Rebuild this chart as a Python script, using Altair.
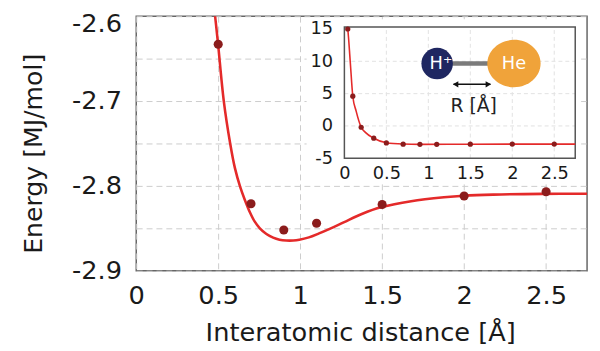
import altair as alt
import pandas as pd

# ---------------- data ----------------
# main panel: computed points
dist = [0.5, 0.7, 0.9, 1.1, 1.5, 2.0, 2.5]
energy = [-2.633, -2.821, -2.852, -2.844, -2.822, -2.812, -2.807]

# main panel: fitted curve
fit_x = [0.46, 0.481, 0.499, 0.534, 0.573, 0.602, 0.634, 0.662, 0.694, 0.722, 0.754,
         0.794, 0.835, 0.874, 0.915, 0.957, 0.995, 1.053, 1.115, 1.173, 1.265, 1.376,
         1.497, 1.677, 1.877, 1.998, 2.178, 2.479, 2.75]
fit_y = [-2.565, -2.600, -2.6326, -2.700, -2.750, -2.7791, -2.8012, -2.8163, -2.8314, -2.8419, -2.850,
         -2.8567, -2.861, -2.8634, -2.8644, -2.8644, -2.8635, -2.8607, -2.856, -2.8512, -2.843, -2.8331,
         -2.825, -2.818, -2.8134, -2.8116, -2.8103, -2.8094, -2.8092]

x_ticks = [0, 0.5, 1, 1.5, 2, 2.5]
y_grid = [-2.9, -2.85, -2.8, -2.75, -2.7, -2.65, -2.6]

# inset: points and curve
inset_x = [0.04, 0.1, 0.2, 0.35, 0.5, 0.7, 0.9, 1.1, 1.5, 2.0, 2.5]
inset_y = [15.0, 4.6, -0.2, -1.9, -2.63, -2.82, -2.85, -2.84, -2.82, -2.81, -2.81]
inset_fit_x = [0.037, 0.04, 0.07, 0.1, 0.14, 0.2, 0.25, 0.35, 0.5, 0.7, 0.9, 1.5, 2.0, 2.75]
inset_fit_y = [15.3, 15.0, 9.9, 4.6, 2.3, -0.2, -1.0, -1.9, -2.6, -2.8, -2.85, -2.82, -2.81, -2.81]
inset_x_ticks = [0, 0.5, 1, 1.5, 2, 2.5]
inset_y_ticks = [-5, 0, 5, 10, 15]
inset_vgrid = [0.5, 1, 1.5, 2, 2.5]
inset_hgrid = [0, 5, 10]

# inset molecule sketch labels
atom_labels = ["H\u207a", "He"]
dist_label = "R [Å]"

# ---------------- styling ----------------
FONT = "DejaVu Sans"
TXT = "#1a1a1a"
RED = "#e42a2a"
DOT = "#8b1c1c"
X_DOM = [0, 2.75]
Y_DOM = [-2.9, -2.6]
IX_DOM = [0, 2.75]
IY_DOM = [-5, 15.3]

X = alt.X("x:Q", scale=alt.Scale(domain=X_DOM, nice=False, zero=False),
          axis=alt.Axis(values=x_ticks, labelExpr="'' + datum.value", labelFlush=False,
                        grid=True, gridDash=[6, 4], gridColor="#cccccc", gridWidth=1,
                        domain=False, ticks=False, labelFontSize=26, labelPadding=12,
                        title="Interatomic distance [Å]", titleFontSize=26,
                        titleFontWeight="normal", titleX=227, titleY=71,
                        titleBaseline="alphabetic", titleAlign="center"))
Y = alt.Y("y:Q", scale=alt.Scale(domain=Y_DOM, nice=False, zero=False),
          axis=alt.Axis(values=y_grid,
                        labelExpr="abs(round(datum.value*100)) % 10 == 0 ? '' + datum.value : ''",
                        labelOffset={"condition": {"test": "datum.value == -2.6", "value": 7},
                                     "value": 0},
                        grid=True, gridDash=[6, 4], gridColor="#cccccc", gridWidth=1,
                        domain=False, ticks=False, labelFontSize=26, labelPadding=15,
                        title="Energy [MJ/mol]", titleFontSize=25.5, titleFontWeight="normal",
                        titleX=-96, titleY=139, titleAngle=270,
                        titleBaseline="alphabetic", titleAlign="center"))

main_pts = pd.DataFrame({"x": dist, "y": energy})
main_fit = pd.DataFrame({"x": fit_x, "y": fit_y})

main = alt.layer(
    alt.Chart(main_fit).mark_line(color=RED, strokeWidth=2.6, interpolate="catmull-rom", clip=True)
    .encode(x=X, y=Y),
    alt.Chart(main_pts).mark_circle(size=85, color=DOT, opacity=1).encode(x=X, y=Y),
)

# ---------------- inset ----------------
IX = alt.X("ix:Q", scale=alt.Scale(domain=IX_DOM, range=[211, 445], nice=False, zero=False),
           axis=alt.Axis(orient="bottom", offset=-114, values=inset_x_ticks,
                         labelExpr="'' + datum.value", labelFlush=False, grid=False,
                         domain=False, ticks=False, labelFontSize=18, labelPadding=7,
                         title=None, zindex=2))
IY = alt.Y("iy:Q", scale=alt.Scale(domain=IY_DOM, range=[144, 11], nice=False, zero=False),
           axis=alt.Axis(orient="left", offset=-211, values=inset_y_ticks,
                         labelExpr="'' + datum.value", grid=False, domain=False, ticks=False,
                         labelFontSize=18, labelPadding=12, title=None, zindex=2))

bg_df = pd.DataFrame({"ix": [-0.45], "ix2": [2.82], "iy": [-8.7], "iy2": [16.5]})
box_df = pd.DataFrame({"ix": [IX_DOM[0]], "ix2": [IX_DOM[1]], "iy": [IY_DOM[0]], "iy2": [IY_DOM[1]]})
vg_df = pd.DataFrame({"ix": inset_vgrid, "iy": [IY_DOM[0]] * len(inset_vgrid),
                      "iy2": [IY_DOM[1]] * len(inset_vgrid)})
hg_df = pd.DataFrame({"iy": inset_hgrid, "ix": [IX_DOM[0]] * len(inset_hgrid),
                      "ix2": [IX_DOM[1]] * len(inset_hgrid)})
ipts = pd.DataFrame({"ix": inset_x, "iy": inset_y})
ifit = pd.DataFrame({"ix": inset_fit_x, "iy": inset_fit_y})

# molecule sketch, placed in the inset's data units
bond_df = pd.DataFrame({"ix": [1.105], "ix2": [2.02], "iy": [9.65]})
h_df = pd.DataFrame({"ix": [1.105], "iy": [9.65]})
he_df = pd.DataFrame({"ix": [2.02], "iy": [9.65]})
atom_txt = pd.DataFrame({"ix": [1.15, 2.02], "iy": [9.65, 9.65], "t": atom_labels})
arrow_df = pd.DataFrame({"ix": [1.30], "ix2": [1.74], "iy": [6.45]})
head_l = pd.DataFrame({"ix": [1.325], "iy": [6.45]})
head_r = pd.DataFrame({"ix": [1.715], "iy": [6.45]})
rlab = pd.DataFrame({"ix": [1.54], "iy": [3.1], "t": [dist_label]})

ELLIPSE = "M -1 0 A 1 0.89 0 1 0 1 0 A 1 0.89 0 1 0 -1 0 Z"

inset = alt.layer(
    alt.Chart(bg_df).mark_rect(fill="white").encode(x=IX, x2="ix2", y=IY, y2="iy2"),
    alt.Chart(box_df).mark_rect(fill="white").encode(x=IX, x2="ix2", y=IY, y2="iy2"),
    alt.Chart(vg_df).mark_rule(color="#e2e2e2", strokeDash=[4, 3], strokeWidth=1)
    .encode(x=IX, y=IY, y2="iy2"),
    alt.Chart(hg_df).mark_rule(color="#e2e2e2", strokeDash=[4, 3], strokeWidth=1)
    .encode(y=IY, x=IX, x2="ix2"),
    alt.Chart(box_df).mark_rect(fill=None, stroke="#555555", strokeWidth=1.5)
    .encode(x=IX, x2="ix2", y=IY, y2="iy2"),
    alt.Chart(ifit).mark_line(color=RED, strokeWidth=1.6, interpolate="monotone")
    .encode(x=IX, y=IY),
    alt.Chart(ipts).mark_circle(size=28, color=DOT, opacity=1).encode(x=IX, y=IY),
    alt.Chart(bond_df).mark_rule(color="#7b7b7b", strokeWidth=4.5).encode(x=IX, x2="ix2", y=IY),
    alt.Chart(h_df).mark_point(shape="circle", filled=True, size=1018, color="#1f2761", opacity=1)
    .encode(x=IX, y=IY),
    alt.Chart(he_df).mark_point(shape=ELLIPSE, filled=True, size=2916, color="#f0a33a", opacity=1)
    .encode(x=IX, y=IY),
    alt.Chart(atom_txt).mark_text(font=FONT, fontSize=18, color="white", baseline="middle")
    .encode(x=IX, y=IY, text="t:N"),
    alt.Chart(arrow_df).mark_rule(color="#111111", strokeWidth=1.5).encode(x=IX, x2="ix2", y=IY),
    alt.Chart(head_l).mark_point(shape="triangle-left", filled=True, size=40, color="#111111", opacity=1)
    .encode(x=IX, y=IY),
    alt.Chart(head_r).mark_point(shape="triangle-right", filled=True, size=40, color="#111111", opacity=1)
    .encode(x=IX, y=IY),
    alt.Chart(rlab).mark_text(font=FONT, fontSize=19, color="#222222", baseline="middle")
    .encode(x=IX, y=IY, text="t:N"),
)

chart = (
    alt.layer(main, inset)
    .resolve_scale(x="independent", y="independent")
    .properties(width=457, height=258,
                autosize=alt.AutoSizeParams(type="none"),
                padding={"left": 130, "top": 6, "right": 5, "bottom": 75})
    .configure_axis(labelFont=FONT, titleFont=FONT, labelColor=TXT, titleColor=TXT)
    .configure_view(stroke="#666666", strokeWidth=1.5)
)

chart.save("out.html", embed_options={"renderer": "svg", "actions": False})
